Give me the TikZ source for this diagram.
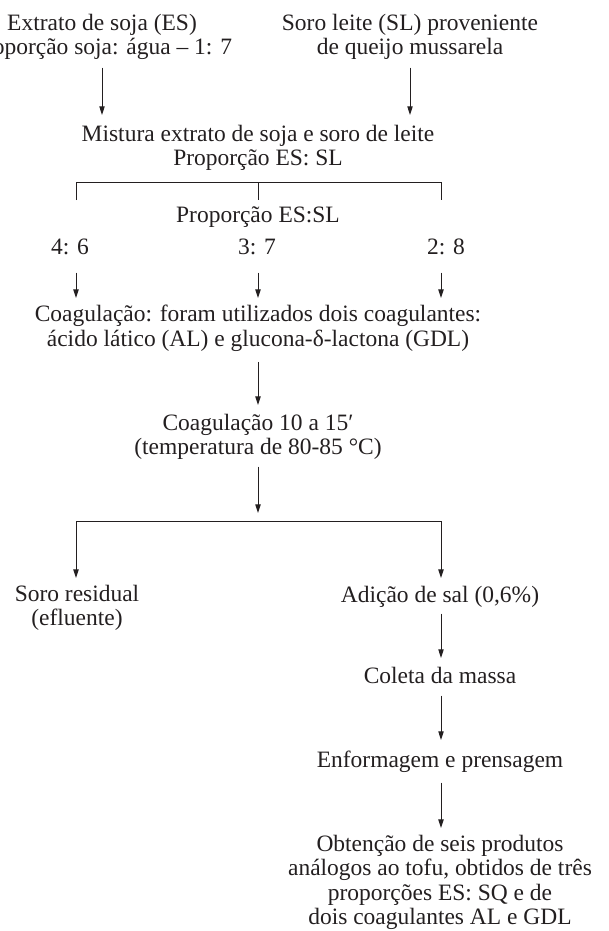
\documentclass[tikz,border=0pt]{standalone}
\usepackage{fontspec}
\setmainfont{Liberation Serif}
\usetikzlibrary{arrows.meta}
\definecolor{ink}{HTML}{231F20}
\begin{document}
\begin{tikzpicture}[x=0.75pt,y=-0.75pt,
  txt/.style={inner sep=0pt, align=center, anchor=north, text=ink,
    font=\fontsize{17.6pt}{18.4pt}\selectfont,
    execute at begin node=\strut, execute at end node=\strut},
  ln/.style={draw=ink, line width=0.7pt},
  arr/.style={ln, -{Triangle[length=6.5pt,width=4pt]}}]
\useasboundingbox (0,0) rectangle (609,931);

% text nodes
\node[txt] (es) at (102,13.83) {Extrato de soja (ES)\\Proporção soja: água – 1: 7};
\node[txt] (sl) at (410,13.83) {Soro leite (SL) proveniente\\de queijo mussarela};
\node[txt] (mix) at (258,124.83) {Mistura extrato de soja e soro de leite\\Proporção ES: SL};
\node[txt] (pr) at (258,204.83) {Proporção ES:SL};
\node[txt] (r1) at (70,236.83) {4: 6};
\node[txt] (r2) at (257,236.83) {3: 7};
\node[txt] (r3) at (446,236.83) {2: 8};
\node[txt] (coag) at (258,304.83) {Coagulação: foram utilizados dois coagulantes:\\ácido lático (AL) e glucona-δ-lactona (GDL)};
\node[txt] (c10) at (258,413.83) {Coagulação 10 a 15′\\(temperatura de 80-85 °C)};
\node[txt] (soro) at (77,584.83) {Soro residual\\(efluente)};
\node[txt] (adic) at (440,584.83) {Adição de sal (0,6\%)};
\node[txt] (col) at (440,665.83) {Coleta da massa};
\node[txt] (enf) at (440,749.83) {Enformagem e prensagem};
\node[txt] (obt) at (440,834.83) {Obtenção de seis produtos\\análogos ao tofu, obtidos de três\\proporções ES: SQ e de\\dois coagulantes AL e GDL};

% bracket coordinates
\coordinate (b1) at (76,200);  \coordinate (t1) at (76,182);
\coordinate (b2) at (258,200); \coordinate (t2) at (258,182);
\coordinate (b3) at (441,200); \coordinate (t3) at (441,182);
\coordinate (s1) at (76,521);  \coordinate (s2) at (258,521); \coordinate (s3) at (441,521);

% top arrows
\draw[arr, shorten <=3.9pt, shorten >=7.4pt] (es.south) -- (es.south |- mix.north);
\draw[arr, shorten <=3.9pt, shorten >=7.4pt] (sl.south) -- (sl.south |- mix.north);

% bracket
\draw[ln] (b1) -- (t1) -- (t3) -- (b3);
\draw[ln] (t2) -- (b2);

% ratio arrows
\draw[arr, shorten <=8pt, shorten >=5.1pt] (r1.south -| b1) -- (coag.north -| b1);
\draw[arr, shorten <=8pt, shorten >=5.1pt] (r2.south -| b2) -- (coag.north -| b2);
\draw[arr, shorten <=8pt, shorten >=5.1pt] (r3.south -| b3) -- (coag.north -| b3);

% main column
\draw[arr, shorten <=6.1pt, shorten >=6.6pt] (coag.south -| b2) -- (c10.north -| b2);
\draw[arr, shorten <=3.1pt, shorten >=6pt] (c10.south -| s2) -- (s2);

% split
\draw[ln] (s1) -- (s3);
\draw[arr, shorten >=5.1pt] (s1) -- (s1 |- soro.north);
\draw[arr, shorten >=5.1pt] (s3) -- (s3 |- adic.north);

% right column
\draw[arr, shorten <=2.7pt, shorten >=5.9pt] (adic.south -| s3) -- (col.north -| s3);
\draw[arr, shorten <=3.5pt, shorten >=7.4pt] (col.south -| s3) -- (enf.north -| s3);
\draw[arr, shorten <=5.7pt, shorten >=5.1pt] (enf.south -| s3) -- (obt.north -| s3);
\end{tikzpicture}
\end{document}
